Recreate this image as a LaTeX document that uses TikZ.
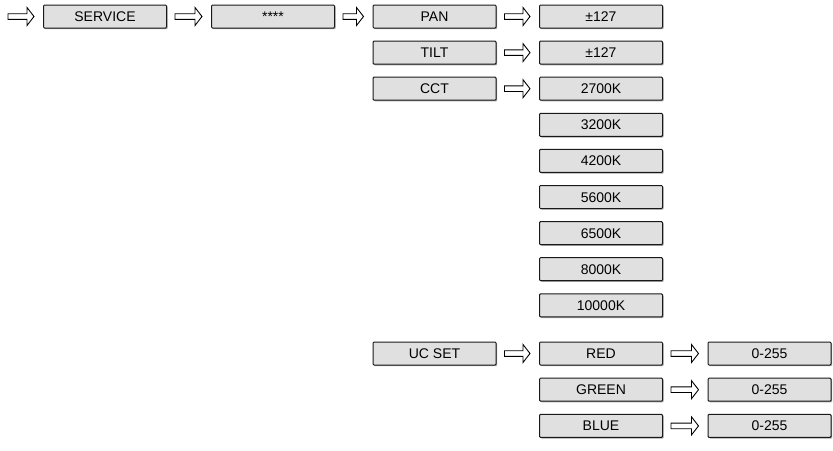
\documentclass[tikz,border=0pt]{standalone}
\usepackage{fontspec}
\setmainfont{Liberation Sans}
\usepackage{tikz}
\usetikzlibrary{positioning, calc, shadows}
\definecolor{BoxColor}{RGB}{224,224,224}
\definecolor{EdgeColor}{RGB}{25,25,25}
\tikzstyle{menu} = [draw=EdgeColor, fill=BoxColor, line width=1pt, rounded corners=1pt,
  minimum width=123pt, minimum height=23pt, inner sep=0pt, text height=10pt, text depth=0pt,
  font=\fontsize{14}{16}\selectfont,
  drop shadow={shadow xshift=1.2pt, shadow yshift=-1.2pt, fill=black!70, opacity=0.5}]
\tikzstyle{next} = [draw=black, fill=white, line width=0.9pt, line join=miter]
% hollow block arrow from one box to the next
\newcommand{\menuarrow}[2]{%
  \draw[next] let \p1=(#1), \p2=(#2) in
    (\x1+8pt,\y1+2.8pt) -- (\x2-16pt,\y1+2.8pt) -- (\x2-16pt,\y1+9pt) -- (\x2-9pt,\y1)
    -- (\x2-16pt,\y1-9pt) -- (\x2-16pt,\y1-2.8pt) -- (\x1+8pt,\y1-2.8pt) -- cycle;}

\begin{document}
\begin{tikzpicture}[x=1pt, y=-1pt]
  \useasboundingbox (0,0) rectangle (833,450);

  % Main path
  \coordinate (start) at (0,16.5);
  \node[menu] (service) at (105,16.5)   {SERVICE};
  \node[menu] (pass)    at (273,16.5)   {****};
  \node[menu] (pan)     at (434.5,16.5) {PAN};
  \node[menu] (tilt)    at (434.5,52.6) {TILT};
  \node[menu] (cct)     at (434.5,88.7) {CCT};
  \node[menu] (ucset)   at (434.5,353.5) {UC SET};

  % Values
  \node[menu] (panval)  at (601,16.5) {±127};
  \node[menu] (tiltval) at (601,52.6) {±127};
  \node[menu] (cct1)    at (601,88.7) {2700K};
  \foreach \k [count=\i from 2] in {3200K,4200K,5600K,6500K,8000K,10000K}
    \node[menu] (cct\i) at (601,{16.5+36.1*(\i+1)}) {\k};

  % UC set
  \node[menu] (red)   at (601,353.5) {RED};
  \node[menu] (green) at (601,389.7) {GREEN};
  \node[menu] (blue)  at (601,425.9) {BLUE};
  \node[menu] (redval)   at (769.5,353.5) {0-255};
  \node[menu] (greenval) at (769.5,389.7) {0-255};
  \node[menu] (blueval)  at (769.5,425.9) {0-255};

  % Arrows
  \menuarrow{start}{service.west}
  \menuarrow{service.east}{pass.west}
  \menuarrow{pass.east}{pan.west}
  \menuarrow{pan.east}{panval.west}
  \menuarrow{tilt.east}{tiltval.west}
  \menuarrow{cct.east}{cct1.west}
  \menuarrow{ucset.east}{red.west}
  \menuarrow{red.east}{redval.west}
  \menuarrow{green.east}{greenval.west}
  \menuarrow{blue.east}{blueval.west}
\end{tikzpicture}
\end{document}
